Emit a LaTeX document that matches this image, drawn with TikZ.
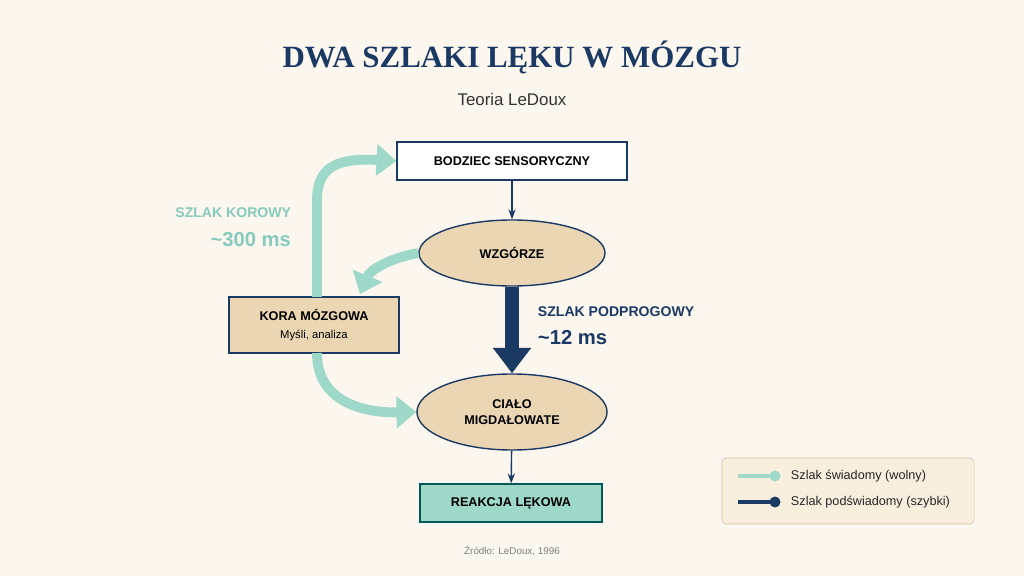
\documentclass[tikz,border=0pt]{standalone}
\usepackage{fontspec}
\setmainfont{Liberation Sans}
\newfontfamily\titlefont{Liberation Serif}
\usetikzlibrary{arrows.meta,shapes.geometric,positioning}
\definecolor{navy}{HTML}{1B3A63}
\definecolor{mint}{HTML}{9ED8C8}
\definecolor{tan}{HTML}{EAD6B3}
\definecolor{cream}{HTML}{FBF6EE}
\definecolor{legendbg}{HTML}{F8EEDD}
\tikzset{
  boxnode/.style={draw=navy,line width=1pt,minimum height=0.95cm,font=\bfseries\small,text=black},
  ovalnode/.style={ellipse,draw=navy,line width=1pt,fill=tan,font=\bfseries\small,align=center},
  thin arrow/.style={navy,line width=1pt,-{Stealth[length=7pt]}},
  mint arrow/.style={mint,line width=7pt,-{Triangle[length=14pt,width=22pt]}},
}
\begin{document}
\begin{tikzpicture}[x=0.025cm,y=-0.025cm]
  \fill[cream] (0,0) rectangle (1024,576);
  \useasboundingbox (0,0) rectangle (1024,576);
  \node (title) at (512,57) {\titlefont\bfseries\fontsize{22}{26}\selectfont\color{navy}DWA SZLAKI LĘKU W MÓZGU};
  \node[font=\large,text=black!80] (sub) at (512,99) {Teoria LeDoux};

  \node[boxnode,fill=white,minimum width=5.75cm] (stim) at (512,161) {BODZIEC SENSORYCZNY};
  \node[ovalnode,minimum width=4.65cm,minimum height=1.65cm] (thal) at (512,253) {WZGÓRZE};
  \node[boxnode,fill=tan,minimum width=4.25cm,minimum height=1.4cm,align=center] (cortex) at (314,325) {KORA MÓZGOWA\\[2pt]{\mdseries\footnotesize Myśli, analiza}};
  \node[ovalnode,minimum width=4.75cm,minimum height=1.9cm] (amyg) at (512,412) {CIAŁO\\MIGDAŁOWATE};
  \node[boxnode,draw=teal!70!black,fill=mint,minimum width=4.55cm] (react) at (511,503) {REAKCJA LĘKOWA};

  \draw[thin arrow] (stim) -- (thal);
  \draw[thin arrow] (amyg) -- (react);
  \draw[navy,line width=10pt,-{Triangle[length=18pt,width=26pt]}] (thal.south) -- (amyg.north);

  \draw[mint arrow] (thal.west) .. controls (390,258) and (370,270) .. (360,294);
  \draw[mint arrow] (317,297) -- (317,200) .. controls (317,165) and (340,158) .. (stim.west);
  \draw[mint arrow] (317,353) .. controls (317,400) and (360,413) .. (amyg.west);

  \node[anchor=east,text=mint!85!teal,font=\bfseries] (kor1) at (296,213) {SZLAK KOROWY};
  \node[anchor=east,text=mint!85!teal,font=\bfseries\Large] (kor2) at (296,240) {\textasciitilde300 ms};
  \node[anchor=west,text=navy,font=\bfseries] (pod1) at (533,312) {SZLAK PODPROGOWY};
  \node[anchor=west,text=navy,font=\bfseries\Large] (pod2) at (533,338) {\textasciitilde12 ms};

  \node[draw=tan!90!black,fill=legendbg,rounded corners=3pt,minimum width=6.3cm,minimum height=1.65cm] (legend) at (848,491) {};
  \coordinate (l1a) at (738,476); \coordinate (l1b) at (775,476);
  \coordinate (l2a) at (738,502); \coordinate (l2b) at (775,502);
  \draw[mint,line width=3pt] (l1a) -- (l1b); \fill[mint] (l1b) circle (5.5);
  \draw[navy,line width=3pt] (l2a) -- (l2b); \fill[navy] (l2b) circle (5.5);
  \node[anchor=west,font=\small,text=black!85] (leg1) at (786,476) {Szlak świadomy (wolny)};
  \node[anchor=west,font=\small,text=black!85] (leg2) at (786,502) {Szlak podświadomy (szybki)};

  \node[font=\scriptsize,text=black!50] (src) at (512,551) {Źródło: LeDoux, 1996};
\end{tikzpicture}
\end{document}
